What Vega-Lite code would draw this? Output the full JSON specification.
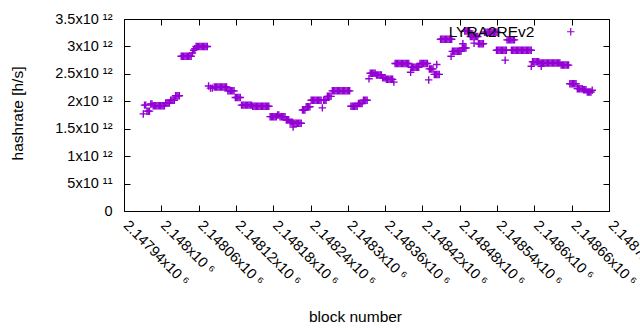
{
"$schema": "https://vega.github.io/schema/vega-lite/v6.json",
"width": 485, "height": 192,
"autosize": {"type": "none"},
"padding": {"left": 124, "top": 19, "right": 31, "bottom": 119},
"background": "white",
"config": {
  "view": {"stroke": "black", "strokeWidth": 1},
  "font": "Liberation Sans",
  "axis": {"grid": false, "domain": false, "tickColor": "black", "tickSize": -6, "labelColor": "black", "titleColor": "black", "labelFont": "Liberation Sans", "titleFont": "Liberation Sans", "labelFontSize": 14.5, "titleFontSize": 15.5, "titleFontWeight": "normal"}
},
"data": {"values": [
{"block":2147971,"hashrate":1.77e12},
{"block":2147973,"hashrate":1.93e12},{"block":2147975,"hashrate":1.93e12},
{"block":2147977,"hashrate":1.82e12},{"block":2147979,"hashrate":1.82e12},{"block":2147981,"hashrate":1.82e12},
{"block":2147983,"hashrate":1.95e12},{"block":2147985,"hashrate":1.95e12},
{"block":2147987,"hashrate":1.92e12},{"block":2147989,"hashrate":1.92e12},{"block":2147991,"hashrate":1.92e12},{"block":2147993,"hashrate":1.92e12},{"block":2147995,"hashrate":1.92e12},{"block":2147997,"hashrate":1.92e12},{"block":2147999,"hashrate":1.92e12},{"block":2148001,"hashrate":1.92e12},{"block":2148003,"hashrate":1.92e12},{"block":2148005,"hashrate":1.92e12},
{"block":2148007,"hashrate":1.97e12},{"block":2148009,"hashrate":1.97e12},{"block":2148011,"hashrate":1.97e12},{"block":2148013,"hashrate":1.97e12},
{"block":2148015,"hashrate":2.02e12},{"block":2148017,"hashrate":2.02e12},{"block":2148019,"hashrate":2.02e12},{"block":2148021,"hashrate":2.02e12},
{"block":2148023,"hashrate":2.10e12},{"block":2148025,"hashrate":2.10e12},{"block":2148027,"hashrate":2.10e12},{"block":2148029,"hashrate":2.10e12},
{"block":2148032,"hashrate":2.82e12},{"block":2148034,"hashrate":2.82e12},{"block":2148036,"hashrate":2.82e12},{"block":2148038,"hashrate":2.82e12},{"block":2148040,"hashrate":2.82e12},{"block":2148042,"hashrate":2.82e12},{"block":2148044,"hashrate":2.82e12},{"block":2148046,"hashrate":2.82e12},{"block":2148048,"hashrate":2.82e12},
{"block":2148050,"hashrate":2.88e12},{"block":2148052,"hashrate":2.93e12},{"block":2148054,"hashrate":2.96e12},
{"block":2148056,"hashrate":3.00e12},{"block":2148058,"hashrate":3.00e12},{"block":2148060,"hashrate":3.00e12},{"block":2148062,"hashrate":3.00e12},{"block":2148064,"hashrate":3.00e12},{"block":2148066,"hashrate":3.00e12},{"block":2148068,"hashrate":3.00e12},{"block":2148070,"hashrate":3.00e12},{"block":2148072,"hashrate":3.00e12},{"block":2148074,"hashrate":3.00e12},
{"block":2148076,"hashrate":2.28e12},{"block":2148079,"hashrate":2.24e12},{"block":2148082,"hashrate":2.24e12},
{"block":2148085,"hashrate":2.26e12},{"block":2148087,"hashrate":2.26e12},{"block":2148089,"hashrate":2.26e12},{"block":2148091,"hashrate":2.26e12},{"block":2148093,"hashrate":2.26e12},{"block":2148095,"hashrate":2.26e12},{"block":2148097,"hashrate":2.26e12},{"block":2148099,"hashrate":2.26e12},{"block":2148101,"hashrate":2.26e12},{"block":2148103,"hashrate":2.26e12},{"block":2148105,"hashrate":2.26e12},
{"block":2148107,"hashrate":2.19e12},{"block":2148109,"hashrate":2.19e12},{"block":2148111,"hashrate":2.19e12},{"block":2148113,"hashrate":2.19e12},{"block":2148115,"hashrate":2.19e12},{"block":2148117,"hashrate":2.19e12},
{"block":2148119,"hashrate":2.07e12},{"block":2148121,"hashrate":2.07e12},{"block":2148123,"hashrate":2.07e12},{"block":2148125,"hashrate":2.07e12},{"block":2148127,"hashrate":2.07e12},
{"block":2148129,"hashrate":1.93e12},{"block":2148131,"hashrate":1.93e12},{"block":2148133,"hashrate":1.93e12},{"block":2148135,"hashrate":1.93e12},{"block":2148137,"hashrate":1.93e12},{"block":2148139,"hashrate":1.93e12},{"block":2148141,"hashrate":1.93e12},{"block":2148143,"hashrate":1.93e12},{"block":2148145,"hashrate":1.93e12},
{"block":2148147,"hashrate":1.91e12},{"block":2148149,"hashrate":1.91e12},{"block":2148151,"hashrate":1.91e12},{"block":2148153,"hashrate":1.91e12},{"block":2148155,"hashrate":1.91e12},{"block":2148157,"hashrate":1.91e12},{"block":2148159,"hashrate":1.91e12},{"block":2148161,"hashrate":1.91e12},{"block":2148163,"hashrate":1.91e12},{"block":2148165,"hashrate":1.91e12},{"block":2148167,"hashrate":1.91e12},{"block":2148169,"hashrate":1.91e12},{"block":2148171,"hashrate":1.91e12},{"block":2148173,"hashrate":1.91e12},
{"block":2148175,"hashrate":1.72e12},{"block":2148177,"hashrate":1.72e12},{"block":2148179,"hashrate":1.72e12},{"block":2148181,"hashrate":1.72e12},{"block":2148183,"hashrate":1.72e12},{"block":2148185,"hashrate":1.72e12},{"block":2148187,"hashrate":1.75e12},{"block":2148189,"hashrate":1.75e12},{"block":2148191,"hashrate":1.72e12},{"block":2148193,"hashrate":1.72e12},{"block":2148195,"hashrate":1.72e12},{"block":2148197,"hashrate":1.72e12},{"block":2148199,"hashrate":1.72e12},
{"block":2148201,"hashrate":1.66e12},{"block":2148203,"hashrate":1.66e12},{"block":2148205,"hashrate":1.66e12},
{"block":2148207,"hashrate":1.62e12},{"block":2148209,"hashrate":1.62e12},{"block":2148211,"hashrate":1.62e12},{"block":2148212,"hashrate":1.53e12},
{"block":2148213,"hashrate":1.60e12},{"block":2148215,"hashrate":1.60e12},{"block":2148217,"hashrate":1.60e12},{"block":2148219,"hashrate":1.60e12},{"block":2148221,"hashrate":1.60e12},{"block":2148223,"hashrate":1.60e12},{"block":2148225,"hashrate":1.60e12},
{"block":2148227,"hashrate":1.84e12},{"block":2148229,"hashrate":1.84e12},{"block":2148231,"hashrate":1.84e12},
{"block":2148233,"hashrate":1.90e12},{"block":2148235,"hashrate":1.90e12},{"block":2148237,"hashrate":1.90e12},{"block":2148239,"hashrate":1.90e12},
{"block":2148241,"hashrate":2.02e12},{"block":2148243,"hashrate":2.02e12},{"block":2148245,"hashrate":2.02e12},{"block":2148247,"hashrate":2.02e12},{"block":2148249,"hashrate":2.02e12},{"block":2148251,"hashrate":2.02e12},{"block":2148253,"hashrate":2.02e12},{"block":2148255,"hashrate":2.02e12},{"block":2148257,"hashrate":2.02e12},
{"block":2148259,"hashrate":1.88e12},
{"block":2148261,"hashrate":2.02e12},{"block":2148263,"hashrate":2.02e12},{"block":2148265,"hashrate":2.02e12},
{"block":2148267,"hashrate":2.09e12},{"block":2148269,"hashrate":2.09e12},{"block":2148271,"hashrate":2.09e12},{"block":2148273,"hashrate":2.09e12},
{"block":2148275,"hashrate":2.19e12},{"block":2148277,"hashrate":2.19e12},{"block":2148279,"hashrate":2.19e12},{"block":2148281,"hashrate":2.19e12},{"block":2148283,"hashrate":2.19e12},{"block":2148285,"hashrate":2.19e12},{"block":2148287,"hashrate":2.19e12},{"block":2148289,"hashrate":2.19e12},{"block":2148291,"hashrate":2.19e12},{"block":2148293,"hashrate":2.19e12},{"block":2148295,"hashrate":2.19e12},{"block":2148297,"hashrate":2.19e12},{"block":2148299,"hashrate":2.19e12},{"block":2148301,"hashrate":2.19e12},{"block":2148303,"hashrate":2.19e12},
{"block":2148305,"hashrate":1.91e12},{"block":2148307,"hashrate":1.91e12},{"block":2148309,"hashrate":1.91e12},{"block":2148311,"hashrate":1.91e12},{"block":2148313,"hashrate":1.91e12},{"block":2148315,"hashrate":1.91e12},
{"block":2148317,"hashrate":1.96e12},{"block":2148319,"hashrate":1.96e12},{"block":2148321,"hashrate":1.96e12},{"block":2148323,"hashrate":1.96e12},
{"block":2148325,"hashrate":2.02e12},{"block":2148327,"hashrate":2.02e12},{"block":2148329,"hashrate":2.02e12},{"block":2148331,"hashrate":2.02e12},
{"block":2148334,"hashrate":2.41e12},
{"block":2148336,"hashrate":2.51e12},{"block":2148338,"hashrate":2.51e12},{"block":2148340,"hashrate":2.51e12},{"block":2148342,"hashrate":2.51e12},{"block":2148344,"hashrate":2.51e12},
{"block":2148346,"hashrate":2.48e12},{"block":2148348,"hashrate":2.48e12},{"block":2148350,"hashrate":2.48e12},{"block":2148352,"hashrate":2.48e12},{"block":2148354,"hashrate":2.48e12},
{"block":2148356,"hashrate":2.43e12},{"block":2148358,"hashrate":2.43e12},{"block":2148360,"hashrate":2.43e12},
{"block":2148362,"hashrate":2.40e12},{"block":2148364,"hashrate":2.40e12},{"block":2148366,"hashrate":2.40e12},{"block":2148368,"hashrate":2.40e12},{"block":2148370,"hashrate":2.40e12},{"block":2148372,"hashrate":2.40e12},
{"block":2148374,"hashrate":2.35e12},
{"block":2148376,"hashrate":2.69e12},{"block":2148378,"hashrate":2.69e12},{"block":2148380,"hashrate":2.69e12},{"block":2148382,"hashrate":2.69e12},{"block":2148384,"hashrate":2.69e12},{"block":2148386,"hashrate":2.69e12},{"block":2148388,"hashrate":2.69e12},{"block":2148390,"hashrate":2.69e12},{"block":2148392,"hashrate":2.69e12},{"block":2148394,"hashrate":2.69e12},{"block":2148396,"hashrate":2.69e12},{"block":2148398,"hashrate":2.69e12},
{"block":2148401,"hashrate":2.53e12},
{"block":2148402,"hashrate":2.62e12},{"block":2148404,"hashrate":2.62e12},{"block":2148406,"hashrate":2.62e12},{"block":2148408,"hashrate":2.62e12},{"block":2148410,"hashrate":2.62e12},{"block":2148412,"hashrate":2.62e12},{"block":2148414,"hashrate":2.62e12},
{"block":2148416,"hashrate":2.69e12},{"block":2148418,"hashrate":2.69e12},{"block":2148420,"hashrate":2.69e12},{"block":2148422,"hashrate":2.69e12},{"block":2148424,"hashrate":2.69e12},{"block":2148426,"hashrate":2.69e12},{"block":2148428,"hashrate":2.69e12},
{"block":2148430,"hashrate":2.39e12},
{"block":2148431,"hashrate":2.59e12},{"block":2148433,"hashrate":2.59e12},{"block":2148435,"hashrate":2.59e12},{"block":2148437,"hashrate":2.59e12},
{"block":2148439,"hashrate":2.49e12},{"block":2148441,"hashrate":2.49e12},{"block":2148443,"hashrate":2.49e12},{"block":2148445,"hashrate":2.49e12},{"block":2148447,"hashrate":2.49e12},
{"block":2148443,"hashrate":2.67e12},
{"block":2148449,"hashrate":3.13e12},{"block":2148451,"hashrate":3.13e12},{"block":2148453,"hashrate":3.13e12},{"block":2148455,"hashrate":3.13e12},{"block":2148457,"hashrate":3.13e12},{"block":2148459,"hashrate":3.13e12},{"block":2148461,"hashrate":3.13e12},{"block":2148463,"hashrate":3.13e12},{"block":2148465,"hashrate":3.13e12},{"block":2148467,"hashrate":3.13e12},
{"block":2148466,"hashrate":2.82e12},
{"block":2148468,"hashrate":2.91e12},{"block":2148470,"hashrate":2.91e12},{"block":2148472,"hashrate":2.91e12},{"block":2148474,"hashrate":2.91e12},{"block":2148476,"hashrate":2.91e12},{"block":2148478,"hashrate":2.91e12},{"block":2148480,"hashrate":2.91e12},{"block":2148482,"hashrate":2.91e12},
{"block":2148484,"hashrate":2.97e12},{"block":2148486,"hashrate":2.97e12},{"block":2148488,"hashrate":2.97e12},{"block":2148490,"hashrate":2.97e12},
{"block":2148485,"hashrate":3.05e12},
{"block":2148488,"hashrate":3.28e12},{"block":2148490,"hashrate":3.28e12},{"block":2148492,"hashrate":3.28e12},{"block":2148494,"hashrate":3.28e12},{"block":2148496,"hashrate":3.28e12},
{"block":2148497,"hashrate":3.18e12},{"block":2148499,"hashrate":3.18e12},{"block":2148501,"hashrate":3.18e12},{"block":2148503,"hashrate":3.18e12},{"block":2148505,"hashrate":3.18e12},{"block":2148507,"hashrate":3.18e12},{"block":2148509,"hashrate":3.18e12},
{"block":2148503,"hashrate":3.06e12},
{"block":2148510,"hashrate":3.05e12},{"block":2148512,"hashrate":3.05e12},{"block":2148514,"hashrate":3.05e12},{"block":2148516,"hashrate":3.05e12},{"block":2148518,"hashrate":3.05e12},
{"block":2148520,"hashrate":3.26e12},{"block":2148522,"hashrate":3.26e12},{"block":2148524,"hashrate":3.26e12},{"block":2148526,"hashrate":3.26e12},{"block":2148528,"hashrate":3.26e12},{"block":2148530,"hashrate":3.26e12},{"block":2148532,"hashrate":3.26e12},{"block":2148534,"hashrate":3.26e12},{"block":2148536,"hashrate":3.26e12},{"block":2148538,"hashrate":3.26e12},{"block":2148540,"hashrate":3.26e12},
{"block":2148539,"hashrate":2.93e12},{"block":2148541,"hashrate":2.93e12},{"block":2148543,"hashrate":2.93e12},{"block":2148545,"hashrate":2.93e12},{"block":2148547,"hashrate":2.93e12},{"block":2148549,"hashrate":2.93e12},{"block":2148551,"hashrate":2.93e12},{"block":2148553,"hashrate":2.93e12},{"block":2148555,"hashrate":2.93e12},
{"block":2148553,"hashrate":2.75e12},
{"block":2148556,"hashrate":3.12e12},{"block":2148558,"hashrate":3.12e12},{"block":2148560,"hashrate":3.12e12},{"block":2148562,"hashrate":3.12e12},{"block":2148564,"hashrate":3.12e12},{"block":2148566,"hashrate":3.12e12},{"block":2148568,"hashrate":3.12e12},
{"block":2148563,"hashrate":2.93e12},{"block":2148565,"hashrate":2.93e12},{"block":2148567,"hashrate":2.93e12},{"block":2148569,"hashrate":2.93e12},{"block":2148571,"hashrate":2.93e12},{"block":2148573,"hashrate":2.93e12},{"block":2148575,"hashrate":2.93e12},{"block":2148577,"hashrate":2.93e12},{"block":2148579,"hashrate":2.93e12},{"block":2148581,"hashrate":2.93e12},{"block":2148583,"hashrate":2.93e12},{"block":2148585,"hashrate":2.93e12},{"block":2148587,"hashrate":2.93e12},{"block":2148589,"hashrate":2.93e12},{"block":2148591,"hashrate":2.93e12},{"block":2148593,"hashrate":2.93e12},{"block":2148595,"hashrate":2.93e12},
{"block":2148595,"hashrate":2.64e12},
{"block":2148597,"hashrate":2.72e12},{"block":2148599,"hashrate":2.72e12},{"block":2148601,"hashrate":2.72e12},{"block":2148603,"hashrate":2.72e12},{"block":2148605,"hashrate":2.72e12},{"block":2148607,"hashrate":2.72e12},
{"block":2148609,"hashrate":2.70e12},{"block":2148611,"hashrate":2.70e12},{"block":2148613,"hashrate":2.70e12},{"block":2148615,"hashrate":2.70e12},{"block":2148617,"hashrate":2.70e12},{"block":2148619,"hashrate":2.70e12},{"block":2148621,"hashrate":2.70e12},{"block":2148623,"hashrate":2.70e12},{"block":2148625,"hashrate":2.70e12},{"block":2148627,"hashrate":2.70e12},{"block":2148629,"hashrate":2.70e12},{"block":2148631,"hashrate":2.70e12},{"block":2148633,"hashrate":2.70e12},{"block":2148635,"hashrate":2.70e12},{"block":2148637,"hashrate":2.70e12},{"block":2148639,"hashrate":2.70e12},{"block":2148641,"hashrate":2.70e12},
{"block":2148611,"hashrate":2.64e12},
{"block":2148643,"hashrate":2.66e12},{"block":2148645,"hashrate":2.66e12},{"block":2148647,"hashrate":2.66e12},{"block":2148649,"hashrate":2.66e12},{"block":2148651,"hashrate":2.66e12},{"block":2148653,"hashrate":2.66e12},{"block":2148655,"hashrate":2.66e12},
{"block":2148657,"hashrate":2.32e12},{"block":2148659,"hashrate":2.32e12},{"block":2148661,"hashrate":2.32e12},{"block":2148663,"hashrate":2.32e12},{"block":2148665,"hashrate":2.32e12},{"block":2148667,"hashrate":2.32e12},
{"block":2148669,"hashrate":2.23e12},{"block":2148671,"hashrate":2.23e12},{"block":2148673,"hashrate":2.23e12},{"block":2148675,"hashrate":2.23e12},{"block":2148677,"hashrate":2.23e12},
{"block":2148679,"hashrate":2.21e12},{"block":2148681,"hashrate":2.21e12},{"block":2148683,"hashrate":2.21e12},
{"block":2148685,"hashrate":2.17e12},{"block":2148687,"hashrate":2.17e12},{"block":2148689,"hashrate":2.17e12},{"block":2148691,"hashrate":2.17e12},
{"block":2148693,"hashrate":2.20e12}
]},
"layer": [
 {
  "mark": {"type": "point", "shape": "M-1,0H1M0,-1V1", "filled": false, "size": 56, "strokeWidth": 1.4, "opacity": 1},
  "encoding": {
   "x": {"field": "block", "type": "quantitative",
     "scale": {"domain": [2147940, 2148720], "nice": false, "zero": false},
     "axis": {"values": [2147940,2148000,2148060,2148120,2148180,2148240,2148300,2148360,2148420,2148480,2148540,2148600,2148660,2148720],
       "labelExpr": "format(datum.value/1e6, '.6~g') + 'x10 ⁶'",
       "labelAngle": 45, "labelAlign": "left", "labelBaseline": "top", "labelPadding": 13, "labelOffset": 6, "labelOverlap": false, "labelBound": false, "labelFlush": false,
       "title": "block number", "titleX": 231, "titleY": 105, "titleBaseline": "middle", "titleAlign": "center"}},
   "y": {"field": "hashrate", "type": "quantitative",
     "scale": {"domain": [0, 3.5e12], "nice": false},
     "axis": {"values": [0,5e11,1e12,1.5e12,2e12,2.5e12,3e12,3.5e12],
       "labelExpr": "datum.value == 0 ? '0' : datum.value < 1e12 ? format(datum.value/1e11, '~g') + 'x10 ¹¹' : format(datum.value/1e12, '~g') + 'x10 ¹²'",
       "labelPadding": 18, "labelOverlap": false, "labelFlush": false,
       "title": "hashrate [h/s]", "titleX": -107, "titleY": 94, "titleAngle": -90, "titleBaseline": "middle", "titleAlign": "center"}},
   "color": {"datum": "LYRA2REv2", "type": "nominal", "scale": {"range": ["#9400D3"]},
     "legend": {"orient": "none", "legendX": 439, "legendY": 5, "title": null, "padding": 0, "labelAlign": "right", "labelOffset": -44, "labelFontSize": 15.5, "labelFont": "Liberation Sans", "labelColor": "black", "symbolType": "M-1,0H1M0,-1V1", "symbolSize": 56, "symbolStrokeWidth": 1.2, "symbolFillColor": "transparent"}}
  }
 },
 {
  "mark": {"type": "point", "opacity": 0},
  "encoding": {
   "x": {"field": "block", "type": "quantitative", "axis": {"orient": "top", "values": [2147940,2148000,2148060,2148120,2148180,2148240,2148300,2148360,2148420,2148480,2148540,2148600,2148660,2148720], "labels": false, "title": null}},
   "y": {"field": "hashrate", "type": "quantitative", "axis": {"orient": "right", "values": [0,5e11,1e12,1.5e12,2e12,2.5e12,3e12,3.5e12], "labels": false, "title": null}}
  }
 }
],
"resolve": {"axis": {"x": "independent", "y": "independent"}}
}
